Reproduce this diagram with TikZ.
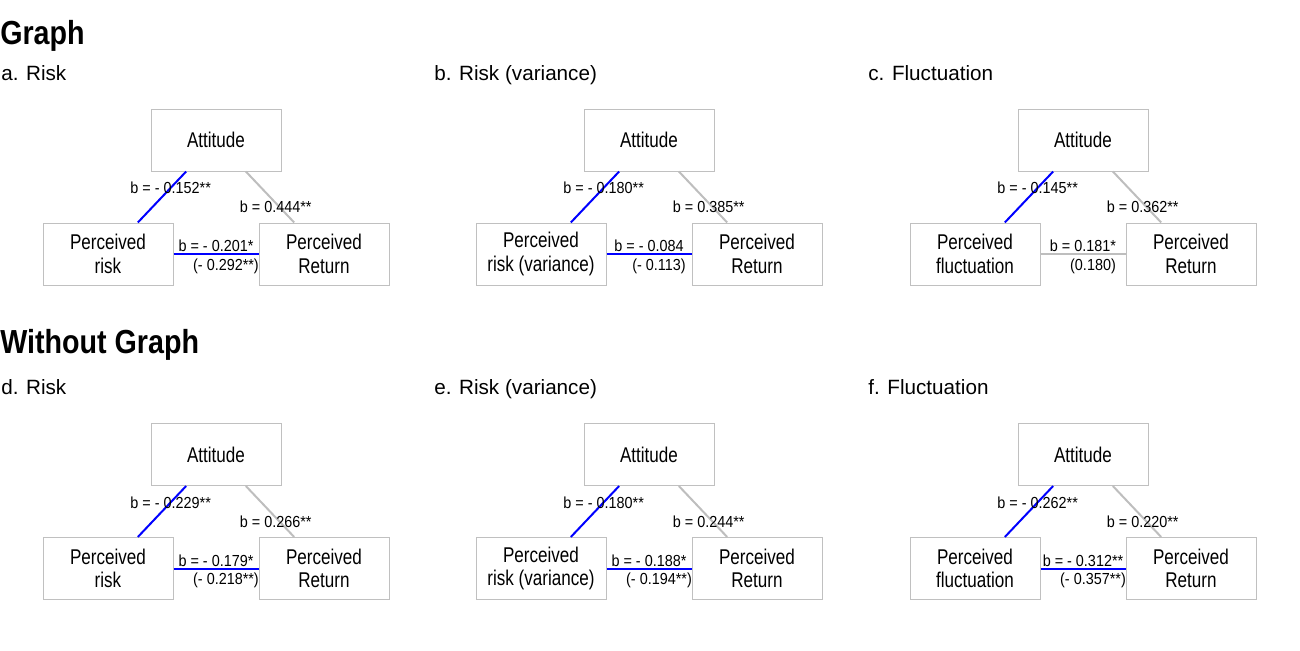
\documentclass[tikz,border=0pt]{standalone}
\usepackage{fontspec}
\setmainfont{Liberation Sans}
\newfontfamily\headfont{Liberation Sans}[FakeStretch=0.86]
\newfontfamily\boxfont{Liberation Sans}[FakeStretch=0.8]
\newfontfamily\edgefont{Liberation Sans}[FakeStretch=0.9]
\definecolor{boxgray}{RGB}{192,192,192}
\definecolor{pathgray}{RGB}{190,190,190}
\begin{document}
\begin{tikzpicture}[
  x=0.75pt, y=-0.75pt,
  heading/.style={anchor=base west, inner sep=0pt, font=\headfont\bfseries\fontsize{25}{28}\selectfont},
  paneltitle/.style={anchor=base west, inner sep=0pt, font=\fontsize{15.5}{18}\selectfont},
  varbox/.style={rectangle, draw=boxgray, line width=0.75pt, minimum width=97.5pt, minimum height=46.5pt, align=center, inner sep=1pt, font=\boxfont\fontsize{16}{17.5}\selectfont},
  path/.style={line width=1.5pt},
  coef/.style={inner sep=1pt, text=black, font=\edgefont\fontsize{12}{13}\selectfont}
]
\useasboundingbox (0,0) rectangle (1300,650);

\node[heading] (graphhead) at (0,44) {Graph};
\node[heading] (nographhead) at (0,353) {Without Graph};

\foreach \dx/\dy/\ttl/\lft/\la/\lb/\lc/\ld/\hcol [count=\i] in {
  0/0/{a. Risk}/{Perceived\\risk}/{b = - 0.152**}/{b = 0.444**}/{b = - 0.201*}/{(- 0.292**)}/blue,
  433/0/{b. Risk (variance)}/{Perceived\\risk (variance)}/{b = - 0.180**}/{b = 0.385**}/{b = - 0.084}/{(- 0.113)}/blue,
  867/0/{c. Fluctuation}/{Perceived\\fluctuation}/{b = - 0.145**}/{b = 0.362**}/{b = 0.181*}/{(0.180)}/pathgray,
  0/314.5/{d. Risk}/{Perceived\\risk}/{b = - 0.229**}/{b = 0.266**}/{b = - 0.179*}/{(- 0.218**)}/blue,
  433/314.5/{e. Risk (variance)}/{Perceived\\risk (variance)}/{b = - 0.180**}/{b = 0.244**}/{b = - 0.188*}/{(- 0.194**)}/blue,
  867/314.5/{f. Fluctuation}/{Perceived\\fluctuation}/{b = - 0.262**}/{b = 0.220**}/{b = - 0.312**}/{(- 0.357**)}/blue}
{
  \begin{scope}[shift={(\dx,\dy)}]
    \node[paneltitle] (title\i) at (1,80) {\ttl};
    \node[varbox] (att\i) at (216,140) {Attitude};
    \node[varbox] (mid\i) at (108,254) {\lft};
    \node[varbox] (ret\i) at (324,254) {Perceived\\Return};

    \draw[path, blue] (att\i) -- (mid\i) node[coef, pos=0.32] {\la};
    \draw[path, pathgray] (att\i) -- (ret\i) node[coef, pos=0.7, xshift=-3pt] {\lb};
    \draw[path, \hcol] (mid\i) -- (ret\i)
      node[coef, midway, yshift=6pt] {\lc}
      node[coef, midway, xshift=7.5pt, yshift=-9pt] {\ld};
  \end{scope}
}
\end{tikzpicture}
\end{document}
